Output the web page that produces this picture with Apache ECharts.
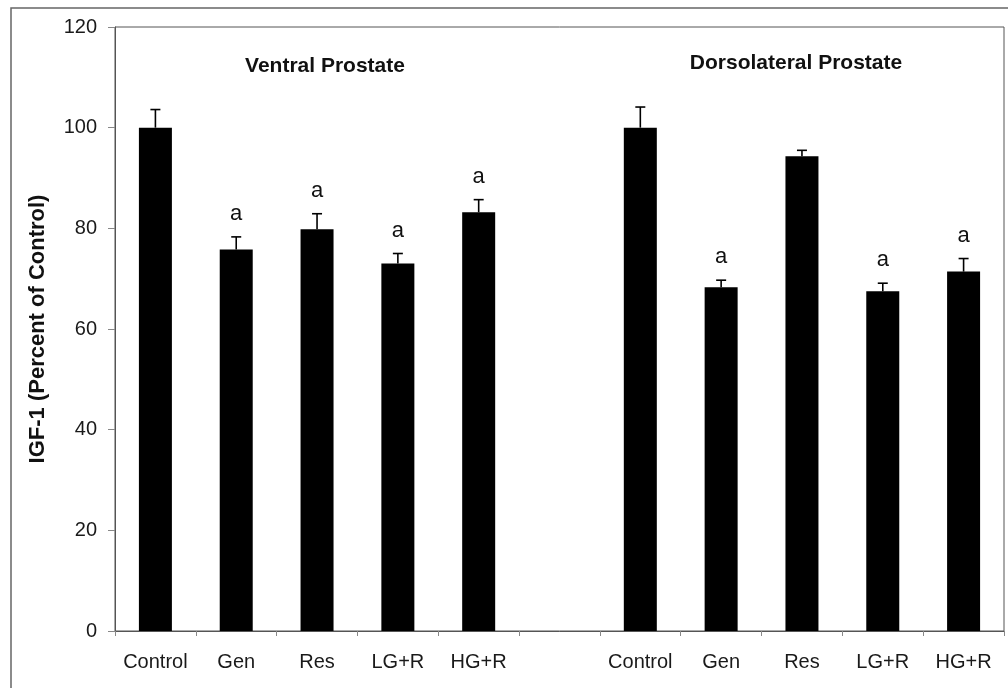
<!DOCTYPE html>
<html>
<head>
<meta charset="utf-8">
<script src="https://cdn.jsdelivr.net/npm/echarts@6/dist/echarts.min.js"></script>
<style>
html,body{margin:0;padding:0;background:#fff;}
#chart{width:1008px;height:688px;}
</style>
</head>
<body>
<div id="chart"></div>
<script>
const categories = ['Control','Gen','Res','LG+R','HG+R','','Control','Gen','Res','LG+R','HG+R'];
const ventralValues = [100, 75.8, 79.8, 73.0, 83.2];
const ventralErrors = [3.6, 2.5, 3.1, 2.0, 2.5];
const ventralSig = ['', 'a', 'a', 'a', 'a'];
const dorsalValues = [100, 68.3, 94.3, 67.5, 71.4];
const dorsalErrors = [4.1, 1.4, 1.2, 1.6, 2.6];
const dorsalSig = ['', 'a', '', 'a', 'a'];
const yTicks = {min: 0, max: 120, interval: 20};
const groupTitles = ['Ventral Prostate', 'Dorsolateral Prostate'];
const yTitle = 'IGF-1 (Percent of Control)';

const values = ventralValues.concat([null], dorsalValues);
const errors = ventralErrors.concat([null], dorsalErrors);
const sigs = ventralSig.concat([''], dorsalSig);

const barData = values.map(v => v === null ? '-' : v);
const errData = [];
values.forEach((v, i) => {
  if (v !== null) errData.push([i, v, errors[i], sigs[i] === 'a' ? 1 : 0]);
});

const FONT = 'Liberation Sans, Arial, Helvetica, sans-serif';
const chart = echarts.init(document.getElementById('chart'));
chart.setOption({
  animation: false,
  backgroundColor: '#fff',
  textStyle: {fontFamily: FONT},
  grid: {left: 115, right: 4, top: 27, bottom: 57, show: true, borderColor: '#555', borderWidth: 1, containLabel: false},
  xAxis: {
    type: 'category',
    data: categories,
    axisLine: {lineStyle: {color: '#555', width: 1}},
    axisTick: {show: true, alignWithLabel: false, length: 5, lineStyle: {color: '#888'}},
    axisLabel: {color: '#1a1a1a', fontSize: 20, fontFamily: FONT, margin: 21, interval: 0},
    splitLine: {show: false}
  },
  yAxis: {
    type: 'value',
    min: yTicks.min, max: yTicks.max, interval: yTicks.interval,
    name: yTitle,
    nameLocation: 'middle',
    nameRotate: 90,
    nameGap: 66,
    nameTextStyle: {fontSize: 22, fontWeight: 'bold', color: '#111', fontFamily: FONT},
    axisLine: {show: true, lineStyle: {color: '#555', width: 1}},
    axisTick: {show: true, inside: false, length: 7, lineStyle: {color: '#888'}},
    axisLabel: {color: '#1a1a1a', fontSize: 20, fontFamily: FONT, margin: 18},
    splitLine: {show: false}
  },
  series: [
    {
      type: 'bar',
      data: barData,
      barWidth: 33,
      itemStyle: {color: '#000'},
      z: 2
    },
    {
      type: 'custom',
      data: errData,
      z: 3,
      renderItem: function (params, api) {
        const x = api.value(0);
        const v = api.value(1);
        const e = api.value(2);
        const top = api.coord([x, v]);
        const cap = api.coord([x, v + e]);
        const children = [
          {type: 'line', shape: {x1: top[0], y1: top[1], x2: cap[0], y2: cap[1]}, style: {stroke: '#000', lineWidth: 1.6}},
          {type: 'line', shape: {x1: cap[0] - 5, y1: cap[1], x2: cap[0] + 5, y2: cap[1]}, style: {stroke: '#000', lineWidth: 1.6}}
        ];
        if (api.value(3) === 1) {
          children.push({type: 'text', style: {text: 'a', x: cap[0], y: cap[1] - 12, align: 'center', verticalAlign: 'bottom', fontSize: 22, fontFamily: FONT, fill: '#111'}});
        }
        return {type: 'group', children: children};
      }
    }
  ],
  graphic: [
    {type: 'rect', shape: {x: 11, y: 8, width: 1010, height: 700}, style: {fill: 'none', stroke: '#666', lineWidth: 1.5}, silent: true, z: -1},
    {type: 'text', style: {text: groupTitles[0], x: 325, y: 66, align: 'center', verticalAlign: 'middle', fontSize: 21, fontWeight: 'bold', fontFamily: FONT, fill: '#111'}},
    {type: 'text', style: {text: groupTitles[1], x: 796, y: 63, align: 'center', verticalAlign: 'middle', fontSize: 21, fontWeight: 'bold', fontFamily: FONT, fill: '#111'}}
  ]
});
</script>
</body>
</html>
